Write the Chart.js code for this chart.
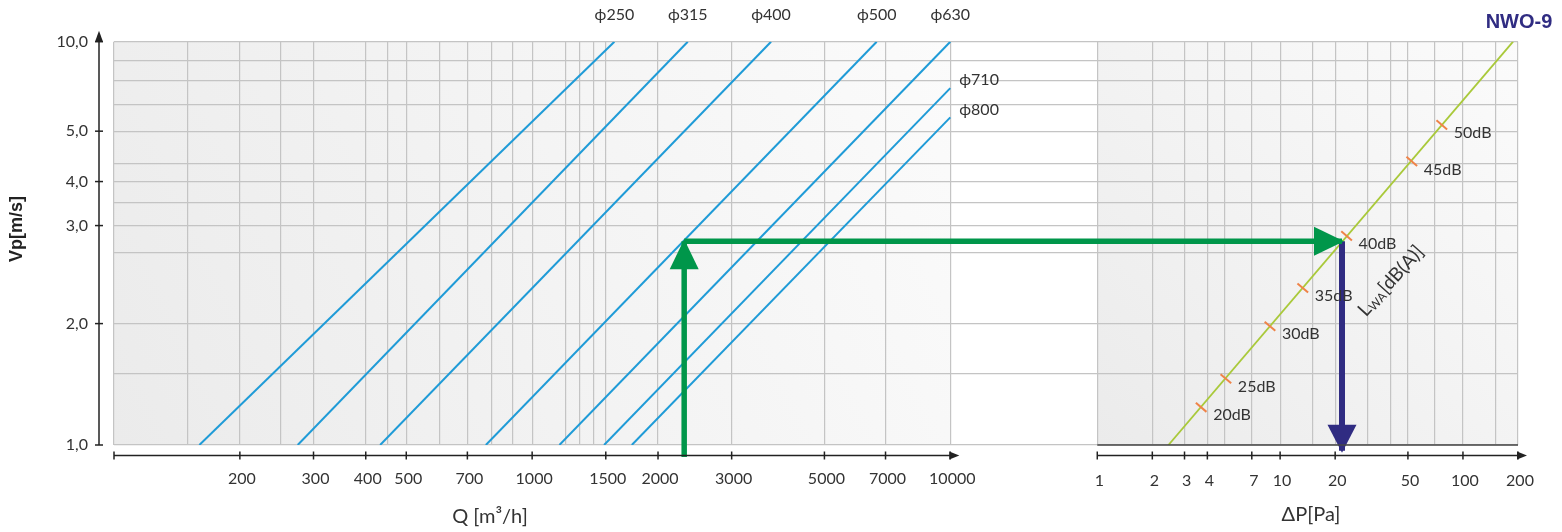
<!DOCTYPE html>
<html>
<head>
<meta charset="utf-8">
<script src="https://cdn.jsdelivr.net/npm/chart.js@4.4.1/dist/chart.umd.min.js"></script>
<style>
html, body { margin: 0; padding: 0; background: #fff; }
#wrap { width: 1562px; height: 532px; position: relative; }
</style>
</head>
<body>
<div id="wrap"><canvas id="nomogram"></canvas></div>
<script>
// duct lines: Q [m3/h] at Vp = 1 m/s and at the upper end of each line
const ductNames = ['ϕ250', 'ϕ315', 'ϕ400', 'ϕ500', 'ϕ630', 'ϕ710', 'ϕ800'];
const ductQStart = [160, 275, 433, 775, 1162, 1486, 1731];
const ductQEnd = [1573, 2356, 3727, 6668, 10000, 10000, 10000];
const ductVEnd = [10, 10, 10, 10, 10, 7.67, 6.49];

// pressure drop line of the unit and its noise marks
const dpLineDp = [2.45, 188];
const dpLineV = [1, 10];
const noiseLabels = ['20dB', '25dB', '30dB', '35dB', '40dB', '45dB', '50dB'];
const noiseDp = [3.7, 5.05, 8.8, 13.3, 23.1, 52.5, 76.6];
const noiseV = [1.24, 1.46, 1.97, 2.45, 3.3, 5.05, 6.22];

// worked example (arrows)
const exampleQ = 2310;
const exampleV = 3.2;
const exampleDp = 21.8;
const exampleFootV = 0.934;   // green arrow starts on the Q axis line
const exampleTipV = 0.968;    // purple arrow ends on the dP axis line

// grid lines and tick labels
const qGrid = [100, 150, 200, 250, 300, 400, 450, 500, 600, 700, 800, 900, 1000, 1200, 1300, 1400, 1500, 2000, 3000, 5000, 7000, 10000];
const qTicks = [200, 300, 400, 500, 700, 1000, 1500, 2000, 3000, 5000, 7000, 10000];
const dpGrid = [1, 2, 3, 4, 5, 7, 10, 15, 20, 30, 40, 50, 70, 100, 150, 200];
const dpTicks = [1, 2, 3, 4, 7, 10, 20, 50, 100, 200];
const vGrid = [1, 1.5, 2, 3, 3.5, 4, 4.5, 5, 6, 7, 8, 9, 10];
const vTickAt = [1, 2, 3.5, 4.5, 6, 10];
const vTickText = ['1,0', '2,0', '3,0', '4,0', '5,0', '10,0'];

// both x scales run over the whole plot width, each panel uses its own part
const Q_MIN = 100, Q_MAX = 227860;
const DP_MIN = 4.19e-6, DP_MAX = 200;
const qToDp = q => Math.pow(10, Math.log10(DP_MIN) +
  (Math.log10(q) - Math.log10(Q_MIN)) * (Math.log10(DP_MAX) - Math.log10(DP_MIN)) / (Math.log10(Q_MAX) - Math.log10(Q_MIN)));

const BLUE = '#1f9bd7', LIME = '#a9c93a', ORANGE = '#ef8348';
const GREEN = '#00964a', PURPLE = '#302c82', TXT = '#333';
const GRID = '#c4c4c4';
const tickFont = { family: 'Lato', size: 16 };

const datasets = [];
datasets.push({
  data: [{ x: exampleQ, y: exampleFootV }, { x: exampleQ, y: exampleV }],
  xAxisID: 'x', borderColor: GREEN, borderWidth: 5.5, clip: false, order: 0,
  arrow: { len: 28, width: 29 }
});
datasets.push({
  data: [{ x: qToDp(exampleQ), y: exampleV }, { x: exampleDp, y: exampleV }],
  xAxisID: 'x2', borderColor: GREEN, borderWidth: 5.5, clip: false, order: 0,
  arrow: { len: 28, width: 29 }
});
datasets.push({
  data: [{ x: exampleDp, y: exampleV }, { x: exampleDp, y: exampleTipV }],
  xAxisID: 'x2', borderColor: PURPLE, borderWidth: 6, clip: false, order: 0,
  arrow: { len: 26, width: 29 }
});
datasets.push({
  data: noiseDp.map((d, i) => ({ x: d, y: noiseV[i] })),
  xAxisID: 'x2', showLine: false, pointStyle: 'line', pointRadius: 7,
  pointRotation: 40.5, pointBorderWidth: 2, pointBorderColor: ORANGE, order: 1,
  noise: true
});
datasets.push({
  data: dpLineDp.map((d, i) => ({ x: d, y: dpLineV[i] })),
  xAxisID: 'x2', borderColor: LIME, borderWidth: 1.8, order: 2
});
ductNames.forEach((name, i) => {
  datasets.push({
    label: name,
    data: [{ x: ductQStart[i], y: 1 }, { x: ductQEnd[i], y: ductVEnd[i] }],
    xAxisID: 'x', borderColor: BLUE, borderWidth: 2, order: 2, duct: true
  });
});

const panels = {
  id: 'panels',
  beforeDraw(chart) {
    const { ctx, chartArea: ca, scales: { x, x2 } } = chart;
    const spans = [
      [x.getPixelForValue(qGrid[0]), x.getPixelForValue(qGrid[qGrid.length - 1])],
      [x2.getPixelForValue(dpGrid[0]), x2.getPixelForValue(dpGrid[dpGrid.length - 1])]
    ];
    ctx.save();
    spans.forEach(([l, r]) => {
      const g = ctx.createLinearGradient(l, ca.bottom, r, ca.top);
      g.addColorStop(0, '#ebebeb');
      g.addColorStop(1, '#fbfbfb');
      ctx.fillStyle = g;
      ctx.fillRect(l, ca.top, r - l, ca.bottom - ca.top);
    });
    ctx.restore();
  }
};

const arrowHeads = {
  id: 'arrowHeads',
  afterDatasetsDraw(chart) {
    const ctx = chart.ctx;
    chart.data.datasets.forEach((ds, i) => {
      if (!ds.arrow) return;
      const pts = chart.getDatasetMeta(i).data;
      const a = pts[pts.length - 2], b = pts[pts.length - 1];
      const ang = Math.atan2(b.y - a.y, b.x - a.x);
      const c = Math.cos(ang), s = Math.sin(ang);
      const bx = b.x - c * ds.arrow.len, by = b.y - s * ds.arrow.len;
      const hw = ds.arrow.width / 2;
      ctx.save();
      ctx.fillStyle = ds.borderColor;
      ctx.beginPath();
      ctx.moveTo(b.x + c * 2, b.y + s * 2);
      ctx.lineTo(bx - s * hw, by + c * hw);
      ctx.lineTo(bx + s * hw, by - c * hw);
      ctx.closePath();
      ctx.fill();
      ctx.restore();
    });
  }
};

function tri(ctx, tx, ty, dx, dy, len, hw) {
  const bx = tx - dx * len, by = ty - dy * len;
  ctx.beginPath();
  ctx.moveTo(tx, ty);
  ctx.lineTo(bx - dy * hw, by + dx * hw);
  ctx.lineTo(bx + dy * hw, by - dx * hw);
  ctx.closePath();
  ctx.fill();
}

const annotations = {
  id: 'annotations',
  afterDraw(chart) {
    const { ctx, chartArea: ca, scales: { x, x2, y } } = chart;
    ctx.save();
    ctx.strokeStyle = '#222';
    ctx.fillStyle = '#222';
    ctx.lineWidth = 1.5;

    // Vp axis with arrow
    const ax = ca.left - 15;
    ctx.beginPath();
    ctx.moveTo(ax, y.getPixelForValue(1));
    ctx.lineTo(ax, ca.top - 3);
    ctx.stroke();
    tri(ctx, ax, ca.top - 11, 0, -1, 11, 4);
    vTickAt.forEach(v => {
      const py = y.getPixelForValue(v);
      ctx.beginPath(); ctx.moveTo(ax - 4, py); ctx.lineTo(ax + 4, py); ctx.stroke();
    });

    // Q and dP axes with arrows, ticks and labels
    const ay = ca.bottom + 10.5;
    ctx.font = '16px Lato';
    ctx.textAlign = 'center';
    ctx.textBaseline = 'middle';
    [[x, [qGrid[0]].concat(qTicks), qTicks, 479], [x2, dpTicks, dpTicks, 481]].forEach(([sc, vals, labels, ly]) => {
      const l = sc.getPixelForValue(vals[0]);
      const r = sc.getPixelForValue(vals[vals.length - 1]);
      ctx.strokeStyle = '#222';
      ctx.fillStyle = '#222';
      ctx.beginPath(); ctx.moveTo(l, ay); ctx.lineTo(r + 3, ay); ctx.stroke();
      tri(ctx, r + 9, ay, 1, 0, 10, 4);
      vals.forEach(v => {
        const px = sc.getPixelForValue(v);
        ctx.beginPath(); ctx.moveTo(px, ay - 4); ctx.lineTo(px, ay + 4); ctx.stroke();
      });
      ctx.fillStyle = TXT;
      labels.forEach(v => {
        ctx.fillText(String(v), sc.getPixelForValue(v) + 2, ly);
      });
    });

    // dark base of the right panel
    ctx.strokeStyle = '#444';
    ctx.beginPath();
    ctx.moveTo(x2.getPixelForValue(dpGrid[0]), ca.bottom);
    ctx.lineTo(x2.getPixelForValue(dpGrid[dpGrid.length - 1]), ca.bottom);
    ctx.stroke();

    // axis titles
    ctx.fillStyle = TXT;
    ctx.textBaseline = 'middle';
    ctx.textAlign = 'center';
    ctx.font = '20px Lato';
    ctx.fillText('Q [m³/h]', 490, 517);
    ctx.fillText('ΔP[Pa]', 1311, 515);
    ctx.save();
    ctx.translate(17, 229);
    ctx.rotate(-Math.PI / 2);
    ctx.font = 'bold 18px "Liberation Sans"';
    ctx.fillStyle = '#222';
    ctx.fillText('Vp[m/s]', 0, 0);
    ctx.restore();

    ctx.font = 'bold 20px "Liberation Sans"';
    ctx.fillStyle = PURPLE;
    ctx.fillText('NWO-9', 1519, 22);

    // duct labels
    ctx.fillStyle = TXT;
    ctx.font = '16px Lato, "DejaVu Sans"';
    chart.data.datasets.forEach((ds, i) => {
      if (!ds.duct) return;
      const pts = chart.getDatasetMeta(i).data;
      const p = pts[pts.length - 1];
      if (p.y <= ca.top + 1) {
        ctx.textAlign = 'center';
        ctx.fillText(ds.label, p.x, ca.top - 27);
      } else {
        ctx.textAlign = 'left';
        ctx.fillText(ds.label, p.x + 9, p.y - 8);
      }
    });

    // noise labels
    ctx.font = '16px Lato';
    ctx.textAlign = 'left';
    chart.data.datasets.forEach((ds, i) => {
      if (!ds.noise) return;
      chart.getDatasetMeta(i).data.forEach((p, k) => {
        ctx.fillText(noiseLabels[k], p.x + 12, p.y + 8);
      });
    });

    // LwA[dB(A)] along the line
    ctx.save();
    ctx.translate(x2.getPixelForValue(29.5), y.getPixelForValue(2.07));
    ctx.rotate(-48 * Math.PI / 180);
    ctx.textBaseline = 'alphabetic';
    ctx.textAlign = 'left';
    ctx.font = '19px Lato';
    ctx.fillText('L', 0, 0);
    let off = ctx.measureText('L').width;
    ctx.font = '12px Lato';
    ctx.fillText('WA', off, 2);
    off += ctx.measureText('WA').width + 1;
    ctx.font = '19px Lato';
    ctx.fillText('[dB(A)]', off, 0);
    ctx.restore();

    ctx.restore();
  }
};

const xScale = (min, max, grid) => ({
  type: 'logarithmic',
  min: min,
  max: max,
  afterBuildTicks: s => { s.ticks = grid.map(v => ({ value: v })); },
  afterFit: s => { s.height = 0; },
  grid: { color: GRID, lineWidth: 1.2, drawTicks: false },
  border: { display: false },
  ticks: { display: false }
});

new Chart(document.getElementById('nomogram'), {
  type: 'line',
  data: { datasets: datasets },
  options: {
    responsive: true,
    maintainAspectRatio: false,
    animation: false,
    events: [],
    layout: { padding: { left: 0, right: 44, top: 41.7, bottom: 87 } },
    elements: { point: { radius: 0 }, line: { tension: 0 } },
    plugins: { legend: { display: false }, tooltip: { enabled: false } },
    scales: {
      x: xScale(Q_MIN, Q_MAX, qGrid),
      x2: xScale(DP_MIN, DP_MAX, dpGrid),
      y: {
        type: 'logarithmic',
        min: 1,
        max: 10,
        afterBuildTicks: s => { s.ticks = vGrid.map(v => ({ value: v })); },
        afterFit: s => { s.width = 114; },
        grid: { color: GRID, lineWidth: 1.2, drawTicks: false },
        border: { display: false },
        ticks: {
          autoSkip: false, padding: 26, font: tickFont, color: TXT,
          callback: v => { const i = vTickAt.indexOf(v); return i < 0 ? '' : vTickText[i]; }
        }
      }
    }
  },
  plugins: [panels, arrowHeads, annotations]
});
</script>
</body>
</html>
